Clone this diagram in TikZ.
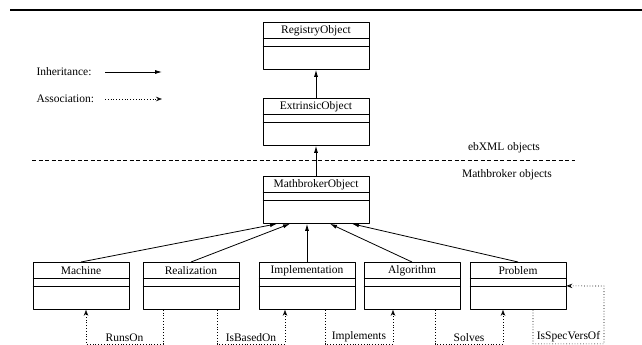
\documentclass[tikz,border=0pt]{standalone}
\usepackage{fontspec}
\setmainfont{Liberation Serif}
\usetikzlibrary{arrows.meta,positioning}

\begin{document}
\begin{tikzpicture}[x=1pt, y=-1pt, line join=round, font=\fontsize{11.5}{13}\selectfont,
	umlbox/.style={draw, line width=0.8pt, minimum height=47pt, anchor=north, inner sep=0pt},
	inh/.style={line width=0.8pt, -{Latex[length=7pt,width=4pt]}},
	assoc/.style={line width=0.6pt, dash pattern=on 0.8pt off 2pt, -{Stealth[open,length=6pt,width=4.5pt,line width=0.7pt]}}]
	\useasboundingbox (0,0) rectangle (642,345);
	\draw[line width=2pt] (10,10) -- (642,10);
	% classes
	\foreach \n/\t/\x/\y/\w in {reg/RegistryObject/316/22/106pt, ext/ExtrinsicObject/316/98/106pt,
		mbo/MathbrokerObject/316/176/106pt, mach/Machine/81/262/96pt, real/Realization/191/262/96pt,
		impl/Implementation/307/262/96pt, alg/Algorithm/412/262/96pt, prob/Problem/518/262/96pt}{
		\node[umlbox, minimum width=\w] (\n) at (\x,\y) {};
		\node (\n-lbl) at ([yshift=-8.5pt]\n.north) {\t};
		\draw[line width=0.8pt] ([yshift=-16.5pt]\n.north west) -- ([yshift=-16.5pt]\n.north east)
			([yshift=-24pt]\n.north west) -- ([yshift=-24pt]\n.north east);
	}
	% inheritance
	\draw[inh] (ext.north) -- (reg.south);
	\draw[inh] (mbo.north) -- (ext.south);
	\foreach \n/\s in {mach/-39pt, real/-26pt, impl/-9pt, alg/14pt, prob/36pt}{
		\draw[inh] (\n.north) -- ([xshift=\s]mbo.south);
	}
	% associations
	\draw[assoc] ([xshift=-28pt]real.south) -- ++(0,34)
		-| node[pos=0.25, above, inner sep=1.5pt] (runs) {RunsOn} ([xshift=5pt]mach.south);
	\draw[assoc] ([xshift=26pt]real.south) -- ++(0,34)
		-| node[pos=0.25, above, inner sep=1.5pt] (based) {IsBasedOn} ([xshift=-22pt]impl.south);
	\draw[assoc] ([xshift=18pt]impl.south) -- ++(0,34)
		-| node[pos=0.25, above, inner sep=1.5pt] (impls) {Implements} ([xshift=-19pt]alg.south);
	\draw[assoc] ([xshift=23pt]alg.south) -- ++(0,34)
		-| node[pos=0.25, above, inner sep=1.5pt] (solves) {Solves} ([xshift=-15pt]prob.south);
	\coordinate (specr) at (604,286);
	\draw[assoc] ([xshift=15pt]prob.south) -- ++(0,34)
		-| node[pos=0.25, above, inner sep=1.5pt] (spec) {IsSpecVersOf} (specr) -- (prob.east);
	% legend
	\node[anchor=west] (inhlbl) at (33,72) {Inheritance:};
	\node[anchor=west] (asslbl) at (33,99) {Association:};
	\coordinate (inha) at (105,72); \coordinate (inhb) at (162,72);
	\coordinate (assa) at (105,99); \coordinate (assb) at (162,99);
	\draw[inh] (inha) -- (inhb);
	\draw[assoc] (assa) -- (assb);
	% separator
	\coordinate (sepl) at (32,160); \coordinate (sepr) at (575,160);
	\draw[line width=0.7pt, dash pattern=on 4pt off 2.5pt] (sepl) -- (sepr);
	\node (ebxml) at (504,148) {ebXML objects};
	\node (mblbl) at (507,175) {Mathbroker objects};
\end{tikzpicture}
\end{document}
